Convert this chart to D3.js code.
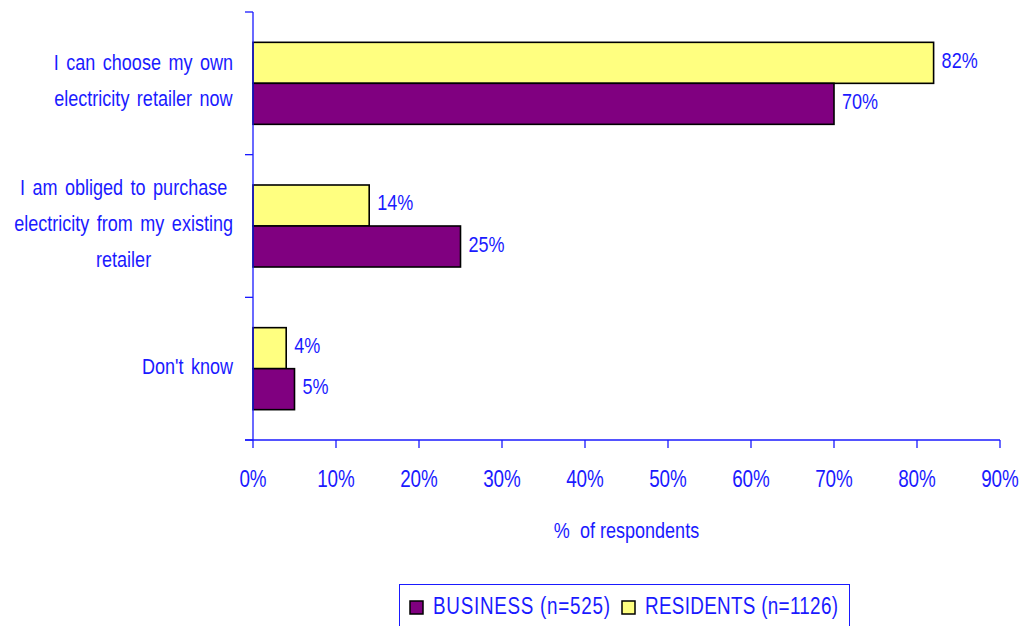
<!DOCTYPE html>
<html>
<head>
<meta charset="utf-8">
<script src="https://cdn.jsdelivr.net/npm/d3@7"></script>
<style>
  html, body { margin: 0; padding: 0; background: #fff; }
  svg { display: block; }
  text { font-family: "Liberation Sans", Arial, sans-serif; fill: #1a1aff; }
</style>
</head>
<body>
<svg id="chart" width="1021" height="626"></svg>
<script>
// Survey answers, share of respondents (%)
const categories = [
  ["I can choose my own", "electricity retailer now"],
  ["I am obliged to purchase", "electricity from my existing", "retailer"],
  ["Don't know"]
];
const seriesNames = ["RESIDENTS (n=1126)", "BUSINESS (n=525)"];
const residents = [82, 14, 4];
const business = [70, 25, 5];
const xTicks = [0, 10, 20, 30, 40, 50, 60, 70, 80, 90];
const xTitle = "%  of respondents";

const colors = { "RESIDENTS (n=1126)": "#ffff80", "BUSINESS (n=525)": "#800080" };
const ink = "#1a1aff";
const narrow = 0.82;   // horizontal squeeze for a narrow sans look
const fs = 22;

const svg = d3.select("#chart");
const plotL = 253, plotR = 1000, plotT = 12, plotB = 440;

// Text drawn in a horizontally condensed frame
function label(parent, x0, y0, str, anchor, size) {
  return parent.append("text")
    .attr("transform", `translate(${x0},${y0}) scale(${narrow},1)`)
    .attr("text-anchor", anchor || "start")
    .attr("font-size", size || fs)
    .style("white-space", "pre")
    .text(str);
}

const x = d3.scaleLinear().domain([0, 90]).range([plotL, plotR]);
const pad = 0.4252;
const y = d3.scaleBand().domain(d3.range(categories.length))
  .range([plotT, plotB]).paddingInner(pad).paddingOuter(pad / 2);
const sub = d3.scaleBand().domain(seriesNames).range([0, y.bandwidth()]);

const rows = categories.map((c, i) => ({
  i, lines: c,
  values: [
    { key: seriesNames[0], v: residents[i] },
    { key: seriesNames[1], v: business[i] }
  ]
}));

// Bars with value labels
const g = svg.append("g");
rows.forEach(r => {
  r.values.forEach(d => {
    g.append("rect")
      .attr("x", x(0))
      .attr("y", y(r.i) + sub(d.key))
      .attr("width", x(d.v) - x(0))
      .attr("height", sub.bandwidth())
      .attr("fill", colors[d.key])
      .attr("stroke", "#000")
      .attr("stroke-width", 1.6);
    label(g, x(d.v) + 8, y(r.i) + sub(d.key) + sub.bandwidth() / 2 + 5, d.v + "%");
  });
});

// Axes
const axisG = svg.append("g").attr("stroke", ink).attr("stroke-width", 1.3).attr("fill", "none");
axisG.append("line").attr("x1", plotL).attr("x2", plotL).attr("y1", plotT).attr("y2", plotB);
axisG.append("line").attr("x1", plotL - 8).attr("x2", plotR).attr("y1", plotB).attr("y2", plotB);
const step = y.step();
d3.range(categories.length + 1).forEach(k => {
  const yy = plotT + k * step;
  axisG.append("line").attr("x1", plotL - 8).attr("x2", plotL).attr("y1", yy).attr("y2", yy);
});
xTicks.forEach(t => {
  axisG.append("line").attr("x1", x(t)).attr("x2", x(t)).attr("y1", plotB).attr("y2", plotB + 8);
});
const tickG = svg.append("g");
xTicks.forEach(t => label(tickG, x(t), 487, t + "%", "middle", 23));

label(svg, (plotL + plotR) / 2, 538, xTitle, "middle");

// Category labels: block right-aligned, lines centred within it
const lineH = 36;
rows.forEach(r => {
  const cy = y(r.i) + y.bandwidth() / 2;
  const tg = svg.append("g");
  const texts = r.lines.map((ln, j) =>
    label(tg, 0, cy - (r.lines.length - 1) * lineH / 2 + j * lineH + 5, ln, "middle")
      .style("word-spacing", "3px"));
  const maxW = d3.max(texts, t => t.node().getComputedTextLength()) * narrow;
  texts.forEach(t => {
    const yy = t.attr("transform").match(/,([\d.]+)\)/)[1];
    t.attr("transform", `translate(${233 - maxW / 2},${yy}) scale(${narrow},1)`);
  });
});

// Legend
const lg = svg.append("g");
lg.append("rect").attr("x", 399.5).attr("y", 584.5).attr("width", 450).attr("height", 60)
  .attr("fill", "#fff").attr("stroke", ink).attr("stroke-width", 1);
const legendItems = [
  { key: seriesNames[1], sx: 410, tx: 433, tw: 177 },
  { key: seriesNames[0], sx: 622, tx: 645, tw: 193 }
];
legendItems.forEach(it => {
  lg.append("rect").attr("x", it.sx).attr("y", 601).attr("width", 13).attr("height", 13)
    .attr("fill", colors[it.key]).attr("stroke", "#000").attr("stroke-width", 1.5);
  label(lg, it.tx, 614, it.key, "start", 23)
    .attr("textLength", it.tw / narrow).attr("lengthAdjust", "spacing");
});
</script>
</body>
</html>
